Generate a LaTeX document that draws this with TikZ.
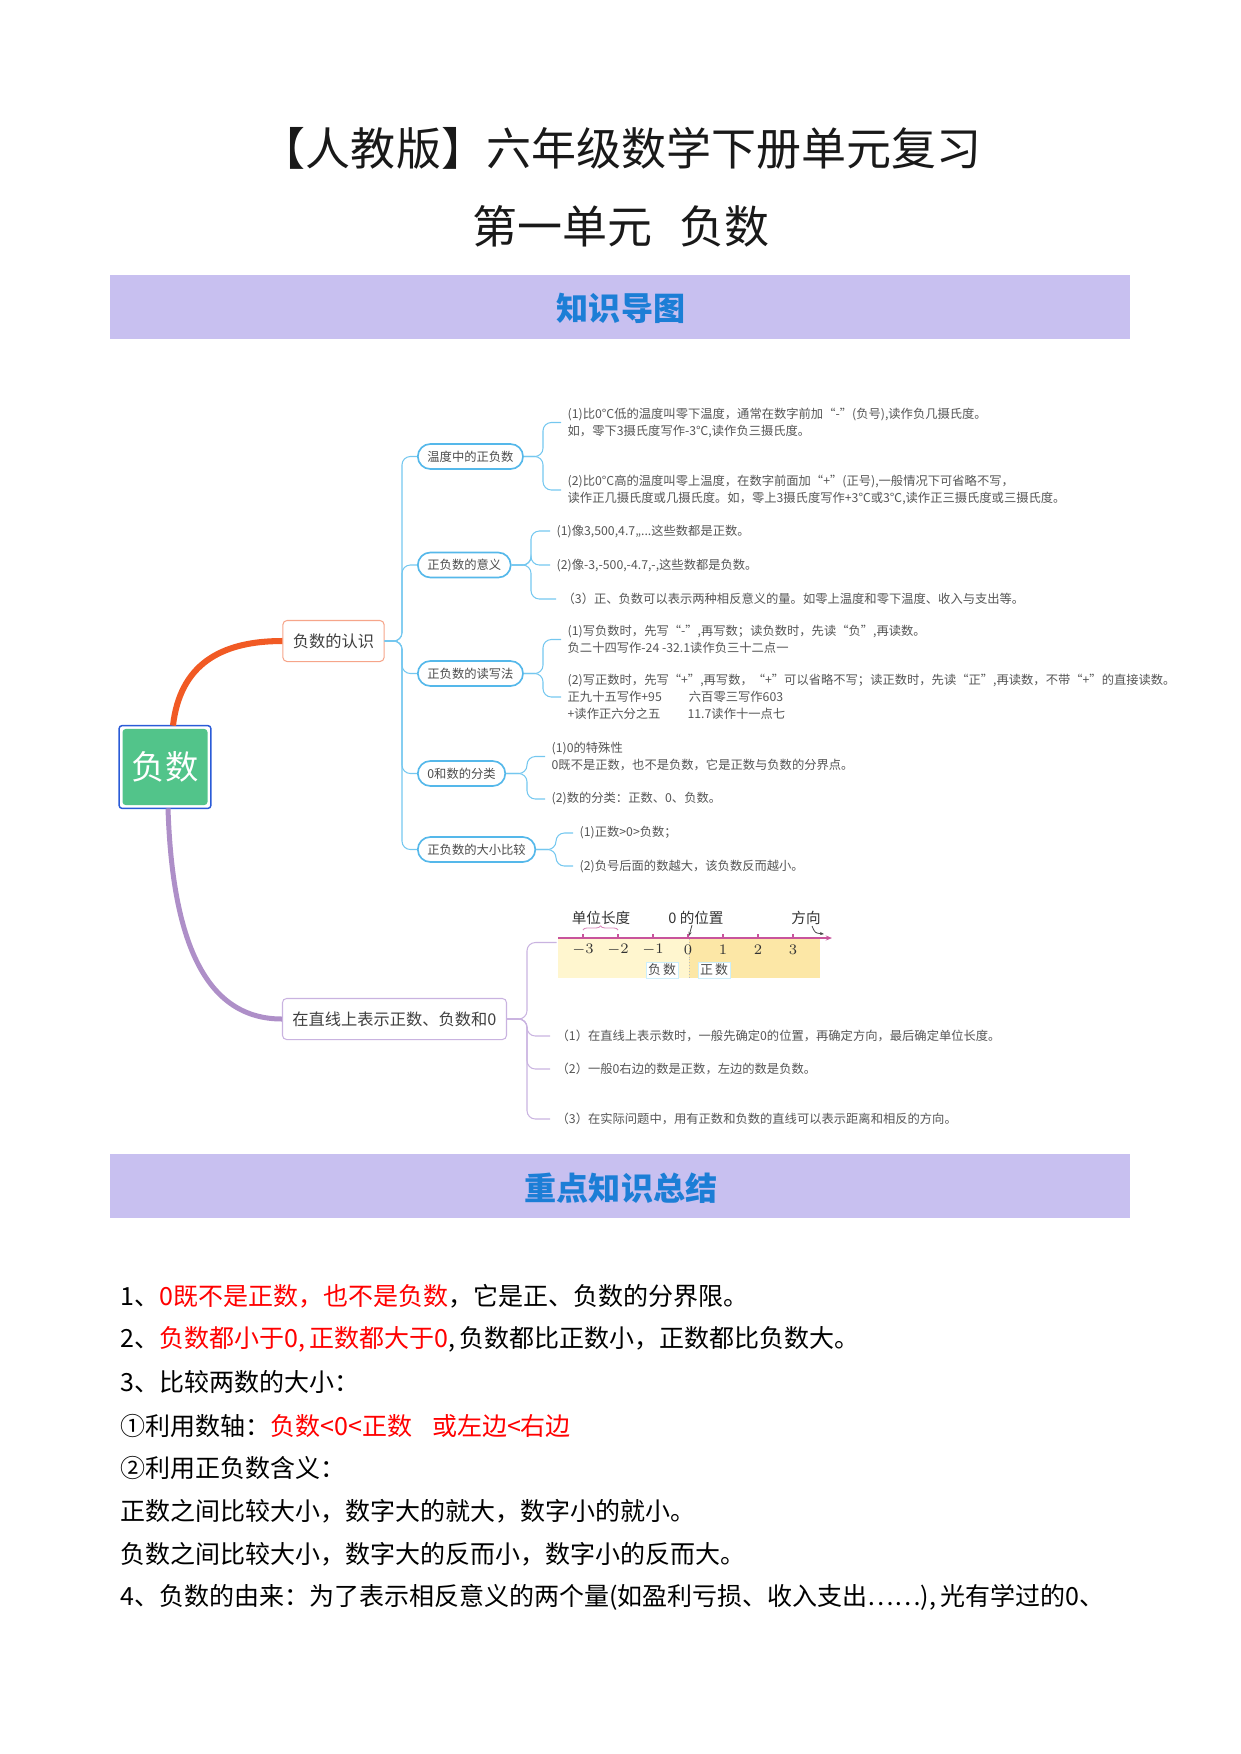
\documentclass[tikz,border=0pt]{standalone}
\usepackage{fontspec}
\setmainfont{Noto Sans CJK SC}
\usetikzlibrary{calc,arrows.meta,decorations.pathreplacing}

\definecolor{bannerbg}{HTML}{C8C0F0}
\definecolor{bannertext}{HTML}{1C7ED6}
\definecolor{rootgreen}{HTML}{52C48A}
\definecolor{rootblue}{HTML}{2A5BD7}
\definecolor{orangeline}{HTML}{F15A24}
\definecolor{orangebox}{HTML}{F6A58A}
\definecolor{purpleline}{HTML}{AE8FC8}
\definecolor{purplebox}{HTML}{C9B3E0}
\definecolor{blueline}{HTML}{74C7EF}
\definecolor{bluebox}{HTML}{55B8EA}
\definecolor{leafgray}{HTML}{555555}
\definecolor{hl}{HTML}{FF0000}
\definecolor{negbg}{HTML}{FFF6CF}
\definecolor{posbg}{HTML}{FCE7A6}
\definecolor{axispink}{HTML}{C8549C}

\tikzset{
  banner/.style={fill=bannerbg, draw=none},
  bannerlabel/.style={text=bannertext, font=\fontsize{15.4}{18}\selectfont\bfseries},
  titlelabel/.style={text=black!90, font=\fontsize{21.6}{26}\selectfont},
  rootbox/.style={fill=rootgreen, text=white, rounded corners=1.5pt, minimum width=40.8pt,
    minimum height=36.5pt, font=\fontsize{16}{19}\selectfont},
  mainbox/.style={draw, fill=white, rounded corners=2pt, line width=0.5pt, text=black!75,
    minimum height=19.7pt, inner xsep=4.8pt, font=\fontsize{7.8}{9}\selectfont},
  subbox/.style={draw=bluebox, fill=white, rounded corners=6pt, line width=0.8pt, text=black!70,
    minimum height=12pt, inner xsep=4.6pt, inner ysep=0pt, font=\fontsize{5.9}{7}\selectfont},
  leaf/.style={anchor=west, align=left, text=leafgray, inner xsep=3pt, inner ysep=1pt,
    font=\fontsize{5.9}{8.2}\selectfont},
  subline/.style={draw=blueline, line width=0.5pt, rounded corners=4pt},
  zline/.style={draw=purplebox, line width=0.5pt, rounded corners=4pt},
  point/.style={anchor=west, inner sep=0pt, text=black, font=\fontsize{12}{14}\selectfont},
  axis/.style={draw=axispink, line width=0.5pt},
  numlab/.style={inner sep=0pt, text=black!80, font=\fontsize{7}{8}\selectfont},
  signbox/.style={draw=cyan!20, fill=white, inner sep=1pt, text=black!70, font=\fontsize{6.2}{7}\selectfont}
}

\begin{document}
\begin{tikzpicture}[x=0.48pt,y=-0.48pt]
\useasboundingbox (0,0) rectangle (1241,1754);

% titles
\node[titlelabel] (title) at (621,148) {【人教版】六年级数学下册单元复习};
\node[titlelabel] (unit) at (621,226) {第一单元\hspace{0.6em}负数};

\fill[banner] (110,275) rectangle (1130,339);
\node[bannerlabel] (maptitle) at (621,308) {知识导图};

% root and main branches
\node[rootbox] (root) at (165,767) {负数};
\draw[rootblue, line width=0.7pt, rounded corners=1.5pt]
  ($(root.south west)+(-3,3)$) rectangle ($(root.north east)+(3,-3)$);

\node[mainbox, draw=orangebox] (renshi) at (333.5,641) {负数的认识};
\node[mainbox, draw=purplebox] (zhixian) at (394.5,1019) {在直线上表示正数、负数和0};

\draw[orangeline, line width=2.9pt] ($(root.north)+(8,-3)$) .. controls (180,665) and (220,641) .. (renshi.west);
\draw[purpleline, line width=2.4pt] ($(root.south)+(3,3)$) .. controls (172,930) and (200,1019) .. (zhixian.west);

% topics of the first branch
\node[subbox, anchor=west] (wendu) at (417,456.5) {温度中的正负数};
\node[subbox, anchor=west] (yiyi) at (417,565) {正负数的意义};
\node[subbox, anchor=west] (duxie) at (417,673.5) {正负数的读写法};
\node[subbox, anchor=west] (fenlei) at (417,773.5) {0和数的分类};
\node[subbox, anchor=west] (bijiao) at (417,849.5) {正负数的大小比较};

\foreach \t in {wendu,yiyi,duxie,fenlei,bijiao}
  \draw[subline] (renshi.east) -- (402,641) |- (\t.west);

% leaves
\node[leaf] (w1) at (561,422.5) {(1)比0°C低的温度叫零下温度，通常在数字前加“-”(负号),读作负几摄氏度。\\如，零下3摄氏度写作-3℃,读作负三摄氏度。};
\node[leaf] (w2) at (561,490) {(2)比0°C高的温度叫零上温度，在数字前面加“+”(正号),一般情况下可省略不写，\\读作正几摄氏度或几摄氏度。如，零上3摄氏度写作+3℃或3℃,读作正三摄氏度或三摄氏度。};
\node[leaf] (y1) at (550,531) {(1)像3,500,4.7,,...这些数都是正数。};
\node[leaf] (y2) at (550,565) {(2)像-3,-500,-4.7,-,这些数都是负数。};
\node[leaf] (y3) at (556,599) {（3）正、负数可以表示两种相反意义的量。如零上温度和零下温度、收入与支出等。};
\node[leaf] (d1) at (561,639.5) {(1)写负数时，先写“-”,再写数；读负数时，先读“负”,再读数。\\负二十四写作-24 -32.1读作负三十二点一};
\node[leaf] (d2) at (561,697) {(2)写正数时，先写“+”,再写数，“+”可以省略不写；读正数时，先读“正”,再读数，不带“+”的直接读数。\\正九十五写作+95\hspace{2.2em}六百零三写作603\\+读作正六分之五\hspace{2.2em}11.7读作十一点七};
\node[leaf] (f1) at (545,756.5) {(1)0的特殊性\\0既不是正数，也不是负数，它是正数与负数的分界点。};
\node[leaf] (f2) at (545,799) {(2)数的分类：正数、0、负数。};
\node[leaf] (b1) at (573,833) {(1)正数>0>负数；};
\node[leaf] (b2) at (573,866) {(2)负号后面的数越大，该负数反而越小。};

\foreach \t in {w1,w2}
  \draw[subline] (wendu.east) -- (543,456.5) |- (\t.west);
\foreach \t in {y1,y2,y3}
  \draw[subline] (yiyi.east) -- (531,565) |- (\t.west);
\foreach \t in {d1,d2}
  \draw[subline] (duxie.east) -- (543,673.5) |- (\t.west);
\foreach \t in {f1,f2}
  \draw[subline] (fenlei.east) -- (527,773.5) |- (\t.west);
\foreach \t in {b1,b2}
  \draw[subline] (bijiao.east) -- (556,849.5) |- (\t.west);

% number line picture
\node[minimum width=133pt, minimum height=37pt, inner sep=0pt] (numline) at (695.5,942.5) {};
\fill[negbg] (558,938) rectangle (689,978);
\fill[posbg] (689,938) rectangle (820,978);
\draw[densely dotted, black!25] (689,939) -- (689,978);
\draw[axis, -{Stealth[length=3pt,width=2.4pt]}] (558,938) -- (832,938);
\foreach \v [count=\i from 0] in {-3,...,3} {
  \draw[axis] (583+35*\i,938) -- (583+35*\i,934);
  \node[numlab] (tick\i) at (583+35*\i,950) {$\v$};
}
\node[numlab] (unitlen) at (601,918) {单位长度};
\draw[axispink!70, decorate, decoration={brace,amplitude=2pt}] (583,930) -- (618,930);
\node[numlab] (zeropos) at (696,918) {0 的位置};
\draw[black!70, line width=0.4pt, -{Stealth[length=2pt]}] (692,925) -- (689,936);
\node[numlab] (dir) at (806,918) {方向};
\draw[black!70, line width=0.4pt, -{Stealth[length=2pt]}] (812,926) .. controls (815,933) .. (824,934);
\node[signbox] (neglab) at (662,970) {负\,数};
\node[signbox] (poslab) at (714,970) {正\,数};

\node[leaf] (z1) at (550,1036) {（1）在直线上表示数时，一般先确定0的位置，再确定方向，最后确定单位长度。};
\node[leaf] (z2) at (550,1069) {（2）一般0右边的数是正数，左边的数是负数。};
\node[leaf] (z3) at (550,1119) {（3）在实际问题中，用有正数和负数的直线可以表示距离和相反的方向。};

\foreach \t in {numline,z1,z2,z3}
  \draw[zline] (zhixian.east) -- (527,1019) |- (\t.west);

% key points
\fill[banner] (110,1154) rectangle (1130,1218);
\node[bannerlabel] (keytitle) at (621,1188) {重点知识总结};

\node[point] (p1) at (120,1296) {1、\textcolor{hl}{0既不是正数，也不是负数}，它是正、负数的分界限。};
\node[point] (p2) at (120,1339) {2、\textcolor{hl}{负数都小于0,\,正数都大于0},\,负数都比正数小，正数都比负数大。};
\node[point] (p3) at (120,1382) {3、比较两数的大小：};
\node[point] (p4) at (120,1426) {①利用数轴：\textcolor{hl}{负数<0<正数\hspace{0.8em}或左边<右边}};
\node[point] (p5) at (120,1468) {②利用正负数含义：};
\node[point] (p6) at (120,1511) {正数之间比较大小，数字大的就大，数字小的就小。};
\node[point] (p7) at (120,1554) {负数之间比较大小，数字大的反而小，数字小的反而大。};
\node[point] (p8) at (120,1597) {4、负数的由来：为了表示相反意义的两个量(如盈利亏损、收入支出⋯⋯),\,光有学过的0、};
\end{tikzpicture}
\end{document}
